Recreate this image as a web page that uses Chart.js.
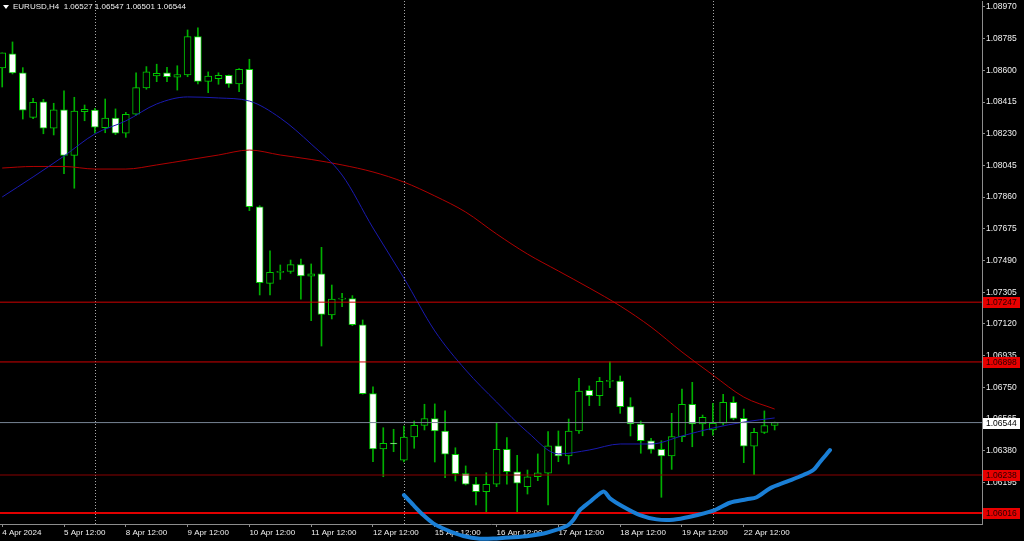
<!DOCTYPE html>
<html>
<head>
<meta charset="utf-8">
<title>EURUSD,H4</title>
<script src="https://cdn.jsdelivr.net/npm/chart.js@4.4.1/dist/chart.umd.min.js"></script>
<style>
  html, body { margin: 0; padding: 0; background: #000; overflow: hidden; }
  #wrap { width: 1024px; height: 541px; }
</style>
</head>
<body>
<div id="wrap"><canvas id="chart" width="1024" height="541"></canvas></div>
<script>
// EURUSD H4 candles, 4 Apr 12:00 .. 23 Apr 00:00 (bar index 0..75)
const opens = [1.08614,1.08696,1.08586,1.08326,1.08417,1.08262,1.08369,1.08104,1.08359,1.08368,
  1.08265,1.08322,1.08233,1.08344,1.08497,1.08567,1.08586,1.08561,1.08573,1.08797,
  1.08536,1.08551,1.08571,1.08521,1.08606,1.07804,1.07357,1.07421,1.07427,1.07466,
  1.07398,1.07413,1.07172,1.07265,1.07268,1.07115,1.06713,1.06390,1.06423,1.06324,
  1.06460,1.06528,1.06567,1.06495,1.06359,1.06246,1.06185,1.06141,1.06184,1.06388,
  1.06257,1.06170,1.06228,1.06248,1.06409,1.06349,1.06495,1.06732,1.06701,1.06785,
  1.06787,1.06637,1.06536,1.06438,1.06388,1.06349,1.06462,1.06651,1.06536,1.06501,
  1.06540,1.06662,1.06569,1.06406,1.06487,1.06527];
const highs = [1.08702,1.08766,1.08616,1.08437,1.08431,1.08408,1.08480,1.08443,1.08398,1.08378,
  1.08433,1.08375,1.08355,1.08586,1.08622,1.08636,1.08618,1.08627,1.08836,1.08849,
  1.08591,1.08586,1.08573,1.08610,1.08665,1.07810,1.07546,1.07464,1.07493,1.07499,
  1.07470,1.07567,1.07347,1.07299,1.07285,1.07143,1.06752,1.06514,1.06505,1.06524,
  1.06553,1.06651,1.06653,1.06613,1.06397,1.06291,1.06225,1.06251,1.06540,1.06456,
  1.06353,1.06267,1.06361,1.06491,1.06495,1.06565,1.06803,1.06758,1.06808,1.06899,
  1.06816,1.06689,1.06553,1.06452,1.06438,1.06598,1.06740,1.06779,1.06588,1.06657,
  1.06709,1.06695,1.06623,1.06511,1.06612,1.06547];
const lows = [1.08503,1.08579,1.08316,1.08318,1.08230,1.08223,1.07997,1.07912,1.08306,1.08234,
  1.08236,1.08225,1.08209,1.08338,1.08490,1.08534,1.08534,1.08485,1.08563,1.08521,
  1.08470,1.08519,1.08501,1.08476,1.07781,1.07289,1.07289,1.07380,1.07415,1.07265,
  1.07139,1.06991,1.07149,1.07220,1.07110,1.06710,1.06316,1.06228,1.06374,1.06314,
  1.06394,1.06501,1.06314,1.06222,1.06203,1.06180,1.06063,1.06024,1.06170,1.06185,
  1.06024,1.06127,1.06205,1.06063,1.06316,1.06302,1.06481,1.06643,1.06643,1.06748,
  1.06598,1.06466,1.06365,1.06365,1.06108,1.06271,1.06432,1.06403,1.06467,1.06471,
  1.06530,1.06560,1.06310,1.06240,1.06480,1.06501];
const closes = [1.08702,1.08585,1.08367,1.08414,1.08262,1.08369,1.08104,1.08363,1.08373,1.08268,
  1.08322,1.08233,1.08344,1.08499,1.08592,1.08583,1.08563,1.08575,1.08797,1.08536,
  1.08567,1.08571,1.08521,1.08606,1.07804,1.07361,1.07421,1.07427,1.07466,1.07400,
  1.07413,1.07176,1.07265,1.07268,1.07115,1.06713,1.06390,1.06423,1.06419,1.06460,
  1.06528,1.06567,1.06495,1.06359,1.06246,1.06185,1.06141,1.06184,1.06388,1.06257,
  1.06190,1.06228,1.06251,1.06409,1.06349,1.06495,1.06728,1.06701,1.06785,1.06787,
  1.06637,1.06536,1.06438,1.06388,1.06349,1.06462,1.06651,1.06536,1.06575,1.06540,
  1.06662,1.06569,1.06406,1.06487,1.06527,1.06544];

// moving averages, read every 3 bars
const maStep = 3;
const maBlue = [1.07861,1.07978,1.08100,1.08229,1.08305,1.08404,1.08445,1.08439,1.08421,1.08322,
  1.08170,1.07989,1.07680,1.07388,1.07079,1.06851,1.06664,1.06489,1.06361,1.06384,
  1.06419,1.06419,1.06466,1.06512,1.06547,1.06571];
const maRed = [1.08030,1.08039,1.08039,1.08024,1.08024,1.08048,1.08077,1.08106,1.08135,1.08106,
  1.08080,1.08048,1.08007,1.07948,1.07867,1.07773,1.07645,1.07528,1.07429,1.07330,
  1.07225,1.07102,1.06956,1.06822,1.06693,1.06623];

// hand drawn projection curve (bar index, price)
const curveIdx = [39.01,39.91,40.88,41.85,43.16,44.77,46.39,48.01,49.62,51.24,52.86,54.81,55.45,56.10,
  57.07,57.72,58.43,59.01,60.30,61.92,63.54,65.16,66.78,69.04,70.66,72.28,73.25,74.54,76.17,77.78,
  78.75,79.40,79.98,80.37];
const curvePrice = [1.06121,1.06063,1.06004,1.05956,1.05917,1.05882,1.05866,1.05868,1.05874,1.05884,
  1.05901,1.05940,1.05975,1.06034,1.06082,1.06115,1.06141,1.06102,1.06053,1.06004,1.05979,1.05977,
  1.05994,1.06030,1.06076,1.06096,1.06108,1.06160,1.06199,1.06238,1.06267,1.06314,1.06355,1.06384];

// horizontal levels and bid
const levels = [1.07247, 1.06898, 1.06238, 1.06016];
const bid = 1.06544;

const yTicks = [1.08970,1.08785,1.08600,1.08415,1.08230,1.08045,1.07860,1.07675,1.07490,1.07305,
  1.07120,1.06935,1.06750,1.06565,1.06380,1.06195,1.06010];
const xTickIdx = [0, 6, 12, 18, 24, 30, 36, 42, 48, 54, 60, 66, 72];
const xTickLabels = ['4 Apr 2024','5 Apr 12:00','8 Apr 12:00','9 Apr 12:00','10 Apr 12:00','11 Apr 12:00',
  '12 Apr 12:00','15 Apr 12:00','16 Apr 12:00','17 Apr 12:00','18 Apr 12:00','19 Apr 12:00','22 Apr 12:00'];
const weekStarts = [9, 39, 69];

// styles
const levelColors = ['#d00000', '#d00000', '#8a0000', '#e00000'];
const levelWidths = [1, 1, 1, 2];
const green = '#00c800';
const txt = '#f0f0f0';
const axisGrey = '#8c8c8c';
const font = 'Liberation Sans';

const xMin = -0.214, xMax = 95.13;
const yMin = 1.05952, yMax = 1.09005;

const last = closes.length - 1;

const bodyData = opens.map((o, i) => ({ x: i, y: [o, closes[i]] }));
const wickData = lows.map((l, i) => ({ x: i, y: [l, highs[i]] }));
const bodyFill = opens.map((o, i) => closes[i] < o ? '#ffffff' : '#000000');

const hLine = (p, color, width) => ({
  type: 'line',
  data: [{ x: xMin, y: p }, { x: xMax, y: p }],
  borderColor: color,
  borderWidth: width,
  pointRadius: 0,
  order: 2
});

const datasets = [
  {
    type: 'bar', data: wickData, backgroundColor: '#00b000', borderWidth: 0,
    grouped: false, barPercentage: 1, categoryPercentage: 1, maxBarThickness: 1, order: 6
  },
  {
    type: 'bar', data: bodyData, backgroundColor: bodyFill, borderColor: green, borderWidth: 1,
    borderSkipped: false, grouped: false, barPercentage: 1, categoryPercentage: 1,
    maxBarThickness: 7, minBarLength: 1, order: 5
  },
  {
    type: 'line', data: maRed.map((v, k) => ({ x: k * maStep, y: v })),
    borderColor: '#b00000', borderWidth: 1, pointRadius: 0, cubicInterpolationMode: 'monotone', order: 4
  },
  {
    type: 'line', data: maBlue.map((v, k) => ({ x: k * maStep, y: v })),
    borderColor: '#1a1ab0', borderWidth: 1, pointRadius: 0, cubicInterpolationMode: 'monotone', order: 3
  },
  ...levels.map((p, k) => hLine(p, levelColors[k], levelWidths[k])),
  hLine(bid, '#778494', 1),
  {
    type: 'line', data: curveIdx.map((v, k) => ({ x: v, y: curvePrice[k] })),
    borderColor: '#1a7fd6', borderWidth: 4, pointRadius: 0, tension: 0.3,
    borderCapStyle: 'round', borderJoinStyle: 'round', clip: false, order: 0
  }
];

const mtOverlay = {
  id: 'mtOverlay',
  beforeDatasetsDraw(chart) {
    const { ctx, chartArea, scales: { x } } = chart;
    ctx.save();
    ctx.strokeStyle = '#a8a8a8';
    ctx.lineWidth = 1;
    ctx.setLineDash([1, 2]);
    weekStarts.forEach(i => {
      const px = Math.round(x.getPixelForValue(i)) + 0.5;
      ctx.beginPath();
      ctx.moveTo(px, chartArea.top);
      ctx.lineTo(px, chartArea.bottom);
      ctx.stroke();
    });
    ctx.restore();
  },
  afterDraw(chart) {
    const { ctx, chartArea, scales: { y } } = chart;
    ctx.save();
    ctx.font = '8.5px "' + font + '"';
    ctx.textBaseline = 'middle';
    // price tags on the right scale
    const tag = (p, bg, fg) => {
      const py = Math.round(y.getPixelForValue(p));
      ctx.fillStyle = bg;
      ctx.fillRect(chartArea.right + 1, py - 5, 37, 11);
      ctx.fillStyle = fg;
      ctx.fillText(p.toFixed(5), chartArea.right + 4, py + 0.5);
    };
    levels.forEach(p => tag(p, '#e80000', '#2a0000'));
    tag(bid, '#ffffff', '#000000');

    // title
    ctx.fillStyle = '#ffffff';
    ctx.beginPath();
    ctx.moveTo(3, 5); ctx.lineTo(9, 5); ctx.lineTo(6, 9); ctx.closePath();
    ctx.fill();
    ctx.font = '8px "' + font + '"';
    ctx.fillStyle = txt;
    const title = 'EURUSD,H4  ' + [opens[last], highs[last], lows[last], closes[last]].map(v => v.toFixed(5)).join(' ');
    ctx.fillText(title, 13, 7);
    ctx.restore();
  }
};

new Chart(document.getElementById('chart'), {
  type: 'bar',
  data: { datasets },
  options: {
    responsive: false,
    animation: false,
    events: [],
    layout: { padding: { top: 1, left: 0, right: 0, bottom: 0 } },
    plugins: { legend: { display: false }, tooltip: { enabled: false } },
    scales: {
      x: {
        type: 'linear', min: xMin, max: xMax, offset: false,
        afterBuildTicks: s => { s.ticks = xTickIdx.map(v => ({ value: v })); },
        afterFit: s => { s.height = 17; s.paddingLeft = 0; s.paddingRight = 0; },
        grid: { drawOnChartArea: false, drawTicks: true, tickLength: 3, color: axisGrey, offset: false },
        border: { display: true, color: axisGrey },
        ticks: {
          autoSkip: false, maxRotation: 0, align: 'start', padding: 1,
          color: txt, font: { family: font, size: 8 },
          callback: v => xTickLabels[xTickIdx.indexOf(v)]
        }
      },
      y: {
        type: 'linear', position: 'right', min: yMin, max: yMax,
        afterBuildTicks: s => { s.ticks = yTicks.map(v => ({ value: v })); },
        afterFit: s => { s.width = 42; s.paddingTop = 0; s.paddingBottom = 0; },
        grid: { drawOnChartArea: false, drawTicks: true, tickLength: 3, color: axisGrey },
        border: { display: true, color: axisGrey },
        ticks: {
          padding: 1, color: txt, font: { family: font, size: 8.5 },
          callback: v => v.toFixed(5)
        }
      }
    }
  },
  plugins: [mtOverlay]
});
</script>
</body>
</html>
